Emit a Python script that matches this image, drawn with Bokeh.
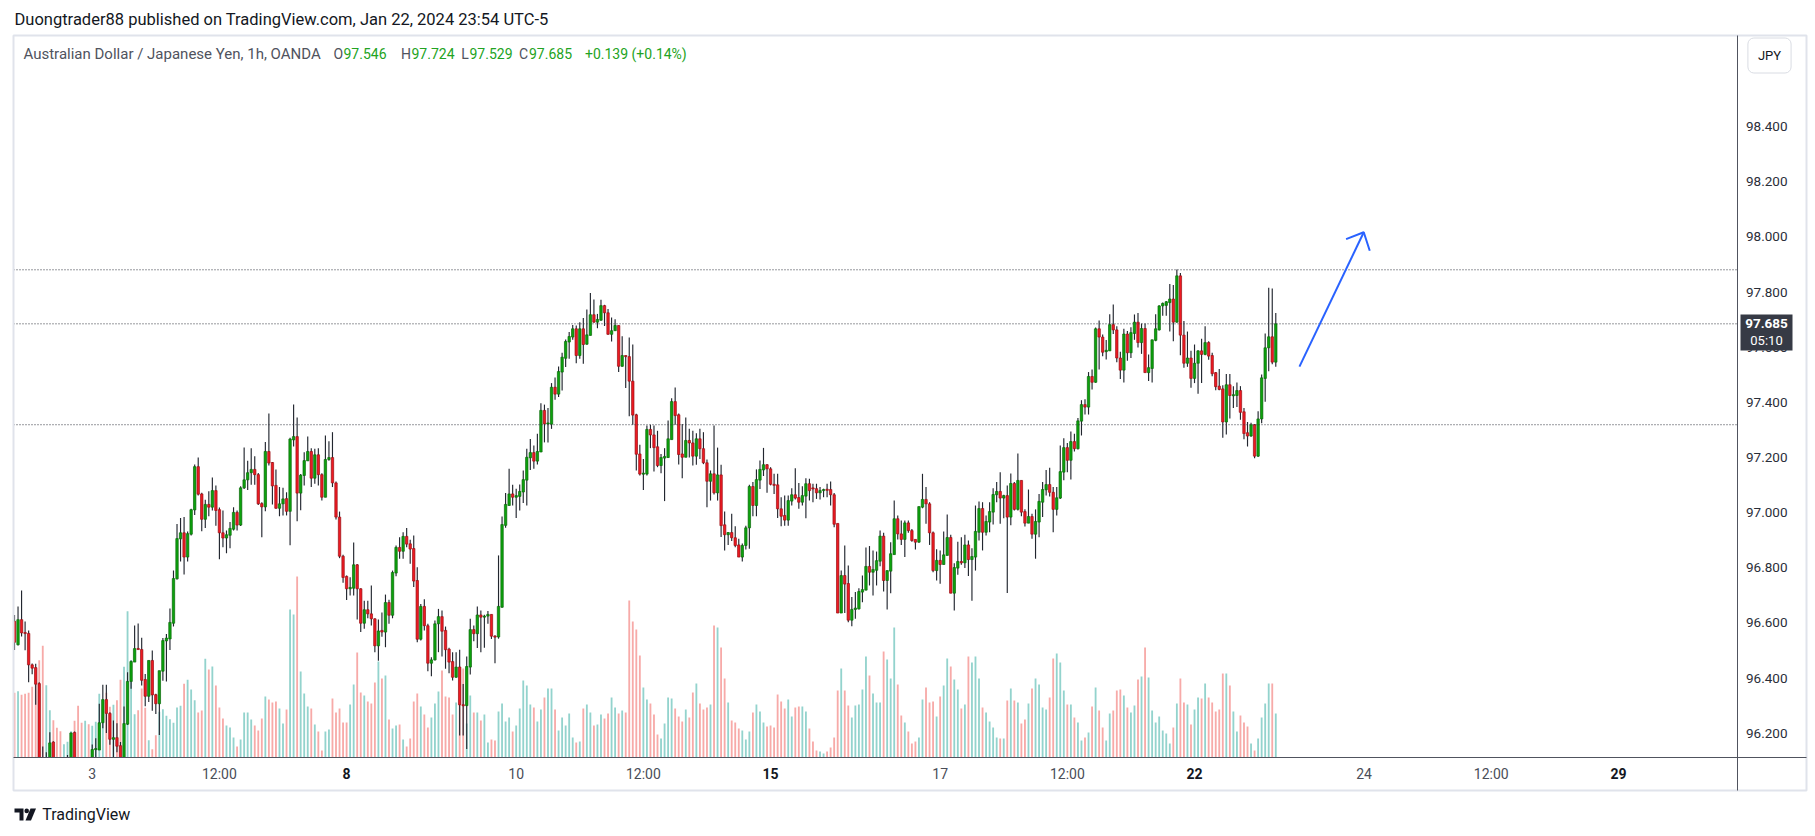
import numpy as np
from bokeh.plotting import figure
from bokeh.models import Range1d, Label, ColumnDataSource
from bokeh.core.properties import value
from bokeh.embed import file_html
from bokeh.resources import INLINE

# ---------------- data (AUD/JPY, 1h, OANDA) ----------------
opens = [
96.606, 96.521, 96.612, 96.565, 96.562, 96.448, 96.438, 96.380, 96.050, 96.030,
96.100, 96.168, 96.060, 96.040, 96.030, 96.060, 96.090, 96.203, 96.080, 96.060,
96.050, 96.070, 96.060, 96.141, 96.139, 96.238, 96.322, 96.272, 96.178, 96.184,
96.155, 96.090, 96.233, 96.388, 96.458, 96.507, 96.504, 96.395, 96.334, 96.464,
96.340, 96.307, 96.425, 96.535, 96.542, 96.599, 96.760, 96.905, 96.927, 96.839,
96.922, 97.010, 97.167, 97.068, 96.976, 97.030, 97.020, 97.080, 97.011, 96.927,
96.908, 96.918, 96.940, 97.001, 96.955, 97.090, 97.119, 97.145, 97.157, 97.138,
97.033, 97.021, 97.222, 97.182, 97.099, 97.016, 97.032, 97.051, 97.005, 97.264,
97.276, 97.071, 97.135, 97.188, 97.222, 97.125, 97.210, 97.138, 97.056, 97.193,
97.200, 97.108, 96.984, 96.842, 96.769, 96.724, 96.726, 96.811, 96.724, 96.599,
96.648, 96.633, 96.615, 96.517, 96.573, 96.567, 96.674, 96.628, 96.781, 96.874,
96.860, 96.914, 96.887, 96.870, 96.754, 96.541, 96.660, 96.590, 96.454, 96.466,
96.597, 96.623, 96.573, 96.505, 96.460, 96.403, 96.440, 96.303, 96.300, 96.440,
96.576, 96.561, 96.629, 96.621, 96.625, 96.631, 96.552, 96.549, 96.657, 96.954,
97.026, 97.068, 97.056, 97.059, 97.075, 97.118, 97.199, 97.218, 97.187, 97.220,
97.371, 97.322, 97.321, 97.455, 97.430, 97.510, 97.560, 97.619, 97.637, 97.667,
97.570, 97.667, 97.611, 97.643, 97.718, 97.691, 97.698, 97.751, 97.725, 97.647,
97.660, 97.679, 97.531, 97.570, 97.566, 97.477, 97.355, 97.213, 97.140, 97.140,
97.302, 97.282, 97.239, 97.171, 97.198, 97.200, 97.265, 97.403, 97.355, 97.213,
97.201, 97.262, 97.253, 97.205, 97.268, 97.232, 97.181, 97.114, 97.141, 97.072,
97.137, 96.956, 96.920, 96.928, 96.909, 96.883, 96.839, 96.881, 96.945, 97.095,
97.026, 97.118, 97.155, 97.174, 97.159, 97.103, 97.101, 97.014, 96.990, 96.973,
97.042, 97.065, 97.055, 97.038, 97.060, 97.105, 97.089, 97.087, 97.072, 97.080,
97.084, 97.084, 97.065, 96.961, 96.636, 96.772, 96.743, 96.610, 96.649, 96.651,
96.712, 96.719, 96.805, 96.784, 96.791, 96.824, 96.915, 96.754, 96.788, 96.848,
96.978, 96.923, 96.903, 96.963, 96.935, 96.903, 96.893, 97.020, 97.048, 97.032,
96.927, 96.790, 96.827, 96.812, 96.845, 96.910, 96.708, 96.799, 96.823, 96.818,
96.883, 96.830, 96.839, 96.929, 97.015, 96.929, 96.966, 97.002, 97.065, 97.077,
97.053, 97.062, 96.984, 97.106, 97.012, 97.117, 97.004, 96.962, 96.986, 96.922,
96.966, 97.038, 97.083, 97.102, 97.074, 97.012, 97.053, 97.147, 97.236, 97.190,
97.258, 97.232, 97.332, 97.392, 97.383, 97.494, 97.473, 97.667, 97.637, 97.584,
97.587, 97.682, 97.663, 97.561, 97.517, 97.648, 97.580, 97.650, 97.691, 97.617,
97.668, 97.508, 97.523, 97.625, 97.663, 97.750, 97.752, 97.762, 97.775, 97.691,
97.859, 97.644, 97.542, 97.561, 97.487, 97.542, 97.587, 97.574, 97.617, 97.570,
97.508, 97.459, 97.449, 97.329, 97.464, 97.425, 97.425, 97.443, 97.366, 97.290,
97.278, 97.319, 97.205, 97.340, 97.487, 97.598, 97.638, 97.546]

highs = [
96.629, 96.660, 96.718, 96.605, 96.573, 96.453, 96.452, 96.385, 96.152, 96.131,
96.204, 96.171, 96.100, 96.090, 96.100, 96.121, 96.203, 96.206, 96.100, 96.090,
96.100, 96.105, 96.159, 96.182, 96.307, 96.376, 96.376, 96.276, 96.246, 96.236,
96.168, 96.297, 96.421, 96.464, 96.591, 96.598, 96.546, 96.415, 96.464, 96.500,
96.343, 96.427, 96.545, 96.560, 96.652, 96.790, 96.959, 96.981, 96.984, 96.932,
97.014, 97.175, 97.200, 97.072, 97.047, 97.078, 97.128, 97.099, 97.019, 97.008,
96.935, 96.966, 97.020, 97.008, 97.096, 97.236, 97.188, 97.234, 97.205, 97.144,
97.038, 97.256, 97.360, 97.184, 97.157, 97.093, 97.090, 97.074, 97.272, 97.392,
97.345, 97.140, 97.219, 97.276, 97.234, 97.232, 97.234, 97.143, 97.280, 97.259,
97.292, 97.113, 97.004, 96.847, 96.772, 96.766, 96.892, 96.814, 96.726, 96.681,
96.681, 96.736, 96.617, 96.613, 96.638, 96.703, 96.684, 96.790, 96.881, 96.911,
96.929, 96.944, 96.902, 96.917, 96.802, 96.669, 96.686, 96.597, 96.476, 96.609,
96.651, 96.645, 96.587, 96.510, 96.494, 96.494, 96.503, 96.379, 96.478, 96.615,
96.591, 96.660, 96.645, 96.630, 96.643, 96.631, 96.555, 96.845, 96.986, 97.071,
97.159, 97.101, 97.087, 97.102, 97.153, 97.232, 97.267, 97.244, 97.286, 97.397,
97.392, 97.380, 97.470, 97.490, 97.530, 97.580, 97.628, 97.655, 97.681, 97.679,
97.691, 97.706, 97.737, 97.797, 97.773, 97.721, 97.772, 97.754, 97.739, 97.708,
97.702, 97.679, 97.640, 97.570, 97.635, 97.610, 97.359, 97.246, 97.195, 97.316,
97.319, 97.316, 97.297, 97.213, 97.234, 97.334, 97.415, 97.454, 97.360, 97.322,
97.345, 97.304, 97.297, 97.288, 97.304, 97.292, 97.193, 97.153, 97.316, 97.236,
97.174, 97.004, 96.929, 96.996, 96.951, 96.905, 96.888, 96.953, 97.101, 97.111,
97.157, 97.189, 97.235, 97.177, 97.165, 97.141, 97.141, 97.056, 97.062, 97.062,
97.089, 97.161, 97.108, 97.096, 97.125, 97.123, 97.105, 97.105, 97.093, 97.087,
97.105, 97.113, 97.071, 96.961, 96.790, 96.881, 96.808, 96.694, 96.712, 96.726,
96.772, 96.874, 96.879, 96.863, 96.859, 96.935, 96.927, 96.790, 96.893, 97.044,
96.990, 96.972, 96.972, 96.972, 96.941, 96.903, 97.022, 97.141, 97.093, 97.038,
96.932, 96.867, 96.863, 96.932, 96.993, 96.920, 96.817, 96.895, 96.911, 96.920,
96.899, 96.871, 97.026, 97.041, 97.038, 96.990, 97.038, 97.089, 97.111, 97.147,
97.065, 97.099, 97.142, 97.111, 97.215, 97.117, 97.012, 97.084, 96.996, 97.012,
97.068, 97.111, 97.155, 97.163, 97.093, 97.093, 97.244, 97.270, 97.253, 97.294,
97.286, 97.343, 97.408, 97.411, 97.510, 97.519, 97.672, 97.697, 97.646, 97.626,
97.720, 97.755, 97.676, 97.584, 97.667, 97.659, 97.673, 97.719, 97.724, 97.686,
97.686, 97.574, 97.627, 97.720, 97.752, 97.762, 97.768, 97.829, 97.826, 97.882,
97.869, 97.695, 97.657, 97.587, 97.610, 97.589, 97.631, 97.676, 97.622, 97.580,
97.510, 97.521, 97.462, 97.503, 97.503, 97.459, 97.472, 97.459, 97.380, 97.329,
97.326, 97.322, 97.368, 97.501, 97.650, 97.816, 97.813, 97.724]

lows = [
96.502, 96.518, 96.551, 96.501, 96.385, 96.414, 96.303, 96.020, 95.990, 96.030,
96.060, 96.030, 96.000, 96.000, 96.020, 96.040, 96.070, 96.050, 96.020, 96.010,
96.020, 96.040, 96.050, 96.100, 96.139, 96.218, 96.201, 96.158, 96.100, 96.131,
96.070, 96.060, 96.230, 96.361, 96.458, 96.504, 96.373, 96.298, 96.313, 96.282,
96.270, 96.194, 96.390, 96.388, 96.502, 96.587, 96.758, 96.823, 96.776, 96.823,
96.917, 96.992, 97.062, 96.933, 96.944, 96.987, 97.008, 96.953, 96.831, 96.875,
96.853, 96.871, 96.935, 96.935, 96.952, 97.086, 97.082, 97.101, 97.101, 97.028,
96.911, 97.005, 97.171, 97.030, 97.014, 96.987, 96.990, 96.990, 96.882, 97.240,
96.969, 97.009, 97.099, 97.188, 97.093, 97.105, 97.099, 97.044, 97.056, 97.188,
97.093, 96.975, 96.835, 96.746, 96.683, 96.700, 96.700, 96.613, 96.567, 96.579,
96.617, 96.591, 96.494, 96.463, 96.550, 96.512, 96.597, 96.617, 96.769, 96.833,
96.833, 96.875, 96.815, 96.730, 96.530, 96.536, 96.573, 96.425, 96.407, 96.464,
96.494, 96.478, 96.434, 96.418, 96.391, 96.401, 96.192, 96.192, 96.143, 96.413,
96.534, 96.509, 96.494, 96.510, 96.597, 96.542, 96.454, 96.543, 96.655, 96.945,
97.026, 97.026, 96.981, 97.008, 97.035, 97.026, 97.155, 97.159, 97.175, 97.220,
97.255, 97.255, 97.304, 97.410, 97.420, 97.443, 97.528, 97.558, 97.627, 97.542,
97.558, 97.540, 97.609, 97.643, 97.689, 97.669, 97.696, 97.677, 97.645, 97.621,
97.660, 97.510, 97.529, 97.452, 97.350, 97.319, 97.153, 97.135, 97.082, 97.135,
97.234, 97.149, 97.165, 97.143, 97.042, 97.198, 97.265, 97.319, 97.175, 97.125,
97.201, 97.200, 97.171, 97.174, 97.195, 97.176, 97.020, 97.044, 97.066, 97.044,
96.912, 96.863, 96.883, 96.897, 96.875, 96.839, 96.823, 96.866, 96.869, 96.987,
96.987, 97.086, 97.133, 97.072, 97.099, 97.068, 96.981, 96.951, 96.953, 96.953,
97.026, 97.048, 97.014, 97.026, 96.980, 97.044, 97.038, 97.050, 97.048, 97.056,
97.056, 97.026, 96.947, 96.636, 96.636, 96.636, 96.603, 96.588, 96.615, 96.649,
96.675, 96.719, 96.736, 96.700, 96.736, 96.806, 96.714, 96.649, 96.708, 96.848,
96.903, 96.883, 96.839, 96.927, 96.895, 96.866, 96.891, 97.016, 96.960, 96.883,
96.784, 96.754, 96.742, 96.812, 96.845, 96.708, 96.645, 96.775, 96.811, 96.799,
96.770, 96.681, 96.790, 96.899, 96.863, 96.917, 96.929, 96.957, 97.038, 96.960,
96.980, 96.709, 96.954, 97.008, 97.008, 96.987, 96.950, 96.962, 96.905, 96.833,
96.911, 96.984, 97.062, 97.059, 96.929, 96.990, 97.050, 97.118, 97.147, 97.120,
97.222, 97.229, 97.280, 97.356, 97.356, 97.447, 97.471, 97.519, 97.567, 97.556,
97.587, 97.648, 97.546, 97.485, 97.472, 97.551, 97.561, 97.627, 97.599, 97.576,
97.508, 97.478, 97.472, 97.622, 97.661, 97.714, 97.714, 97.657, 97.622, 97.689,
97.571, 97.526, 97.529, 97.453, 97.470, 97.431, 97.470, 97.571, 97.555, 97.495,
97.444, 97.444, 97.272, 97.284, 97.342, 97.380, 97.383, 97.337, 97.266, 97.240,
97.275, 97.197, 97.202, 97.324, 97.402, 97.513, 97.538, 97.529]

closes = [
96.530, 96.612, 96.564, 96.562, 96.448, 96.436, 96.378, 96.050, 96.030, 96.100,
96.165, 96.060, 96.040, 96.030, 96.060, 96.090, 96.201, 96.080, 96.060, 96.050,
96.070, 96.060, 96.141, 96.144, 96.238, 96.322, 96.272, 96.178, 96.184, 96.153,
96.090, 96.235, 96.388, 96.460, 96.507, 96.504, 96.392, 96.334, 96.464, 96.339,
96.307, 96.427, 96.536, 96.545, 96.602, 96.761, 96.906, 96.927, 96.839, 96.924,
97.011, 97.167, 97.067, 96.976, 97.030, 97.020, 97.080, 97.008, 96.927, 96.908,
96.920, 96.943, 97.001, 96.955, 97.090, 97.119, 97.145, 97.157, 97.138, 97.032,
97.021, 97.222, 97.180, 97.097, 97.016, 97.032, 97.050, 97.005, 97.267, 97.276,
97.071, 97.136, 97.189, 97.222, 97.125, 97.210, 97.138, 97.056, 97.193, 97.200,
97.108, 96.984, 96.842, 96.765, 96.724, 96.729, 96.811, 96.724, 96.599, 96.648,
96.633, 96.615, 96.517, 96.571, 96.567, 96.674, 96.628, 96.783, 96.874, 96.860,
96.914, 96.886, 96.868, 96.752, 96.541, 96.660, 96.590, 96.454, 96.466, 96.597,
96.623, 96.570, 96.503, 96.458, 96.403, 96.440, 96.303, 96.300, 96.442, 96.576,
96.561, 96.629, 96.621, 96.625, 96.631, 96.552, 96.549, 96.660, 96.957, 97.030,
97.068, 97.056, 97.062, 97.077, 97.120, 97.201, 97.218, 97.187, 97.222, 97.371,
97.322, 97.325, 97.455, 97.430, 97.512, 97.564, 97.621, 97.639, 97.667, 97.570,
97.667, 97.610, 97.645, 97.718, 97.691, 97.701, 97.751, 97.725, 97.647, 97.660,
97.679, 97.531, 97.570, 97.566, 97.477, 97.354, 97.212, 97.140, 97.143, 97.302,
97.282, 97.236, 97.171, 97.200, 97.204, 97.268, 97.403, 97.352, 97.211, 97.201,
97.262, 97.253, 97.205, 97.268, 97.232, 97.181, 97.114, 97.141, 97.072, 97.137,
96.953, 96.920, 96.928, 96.909, 96.881, 96.839, 96.881, 96.945, 97.095, 97.026,
97.120, 97.157, 97.174, 97.159, 97.103, 97.099, 97.014, 96.987, 96.973, 97.044,
97.065, 97.053, 97.038, 97.062, 97.105, 97.080, 97.087, 97.072, 97.080, 97.084,
97.082, 97.065, 96.958, 96.636, 96.772, 96.741, 96.610, 96.649, 96.654, 96.714,
96.721, 96.805, 96.784, 96.794, 96.826, 96.915, 96.754, 96.790, 96.851, 96.978,
96.923, 96.903, 96.963, 96.935, 96.899, 96.893, 97.022, 97.048, 97.032, 96.927,
96.790, 96.827, 96.812, 96.847, 96.910, 96.708, 96.801, 96.823, 96.818, 96.883,
96.830, 96.841, 96.932, 97.015, 96.929, 96.968, 97.004, 97.066, 97.077, 97.053,
97.062, 96.984, 97.106, 97.012, 97.117, 97.002, 96.962, 96.986, 96.922, 96.968,
97.041, 97.084, 97.102, 97.074, 97.012, 97.054, 97.149, 97.236, 97.190, 97.258,
97.232, 97.333, 97.392, 97.383, 97.494, 97.473, 97.667, 97.637, 97.582, 97.589,
97.682, 97.663, 97.561, 97.517, 97.648, 97.580, 97.653, 97.691, 97.617, 97.668,
97.508, 97.526, 97.627, 97.667, 97.750, 97.759, 97.765, 97.775, 97.691, 97.859,
97.644, 97.542, 97.561, 97.487, 97.542, 97.587, 97.574, 97.617, 97.568, 97.504,
97.457, 97.447, 97.329, 97.464, 97.425, 97.427, 97.443, 97.364, 97.287, 97.278,
97.319, 97.205, 97.340, 97.489, 97.598, 97.638, 97.546, 97.685]

volumes = [
64.7, 66.3, 62.7, 63.7, 64.7, 70.7, 73.0, 97.3, 111.7, 72.3,
47.3, 37.3, 29.7, 26.3, 13.3, 15.7, 26.3, 36.7, 51.7, 34.7,
36.7, 33.3, 31.7, 35.7, 63.7, 50.0, 64.7, 50.7, 52.7, 57.3,
77.7, 90.7, 146.3, 97.3, 43.3, 47.3, 69.0, 49.7, 17.3, 8.3,
22.3, 45.7, 48.3, 41.7, 38.3, 34.7, 50.0, 51.7, 73.7, 77.7,
68, 57.3, 45, 47, 98.7, 88, 91, 72, 50, 39,
32, 30, 20, 11, 18, 45, 45, 38, 32, 27,
39, 61, 58, 55, 56, 49, 34, 48, 148, 143,
181, 86, 64, 51, 49, 33, 26, 7, 26, 28,
59, 45, 49, 35, 35, 53, 73, 105, 65, 62,
56, 54, 75, 96, 79, 82, 38, 29, 32, 33,
18, 11, 19, 56, 64, 51, 43, 30, 40, 54,
66, 87, 61, 60, 43, 55, 91, 89, 34, 62,
45, 45, 37, 43, 15, 18, 17, 46, 54, 36,
40, 26, 32, 49, 77, 72, 53, 50, 36, 48,
60, 69, 69, 48, 27, 40, 32, 44, 20, 15,
16, 49, 53, 45, 32, 33, 43, 39, 44, 60,
50, 44, 47, 45, 157, 136, 128, 102, 70, 58,
54, 43, 23, 19, 34, 60, 59, 49, 41, 36,
48, 40, 65, 74, 54, 48, 50, 53, 132, 130,
110, 79, 55, 37, 35, 29, 27, 18, 26, 45,
53, 46, 35, 31, 32, 30, 63, 56, 49, 58,
41, 50, 51, 51, 46, 29, 16, 7, 6, 4,
6, 10, 20, 67, 89, 67, 52, 40, 52, 53,
68, 101, 82, 64, 55, 55, 106, 98, 79, 130,
73, 42, 35, 26, 14, 16, 20, 58, 70, 55,
56, 41, 61, 72, 99, 91, 78, 68, 49, 53,
101, 95, 101, 79, 50, 45, 36, 30, 20, 19,
19, 57, 69, 57, 55, 34, 38, 54, 69, 79,
73, 50, 48, 60, 99, 104, 95, 67, 53, 53,
40, 35, 17, 20, 25, 51, 70, 47, 30, 17,
44, 47, 67, 68, 62, 50, 45, 52, 78, 81,
110, 80, 47, 35, 41, 27, 24, 14, 30, 54,
79, 55, 53, 33, 48, 60, 59, 74, 60, 55,
46, 48, 84, 84, 72, 46, 26, 42, 35, 31,
14, 7, 19, 40, 54, 74, 74, 44]

price_ticks = [96.2, 96.4, 96.6, 96.8, 97.0, 97.2, 97.4, 97.6, 97.8, 98.0, 98.2, 98.4]
time_tick_pos = [22, 58, 94, 142, 178, 214, 262, 298, 334, 382, 418, 454]
time_tick_labels = ["3", "12:00", "8", "10", "12:00", "15", "17", "12:00", "22", "24", "12:00", "29"]
time_tick_bold = [False, False, True, False, False, True, False, False, True, False, False, True]
level_lines = [97.881, 97.685, 97.319]
arrow_line_x = [363.7, 381.9]
arrow_line_y = [97.530, 98.017]
arrow_head_x = [376.9, 381.9, 383.6]
arrow_head_y = [97.992, 98.017, 97.950]

header_text = "Duongtrader88 published on TradingView.com, Jan 22, 2024 23:54 UTC-5"
symbol_text = "Australian Dollar / Japanese Yen, 1h, OANDA"
ohlc_keys = ["O", "H", "L", "C"]
ohlc_vals = ["97.546", "97.724", "97.529", "97.685"]
change_text = "+0.139 (+0.14%)"
last_price = 97.685
last_price_text = "97.685"
countdown_text = "05:10"
currency_text = "JPY"
brand_text = "TradingView"

# ---------------- canvas / scales ----------------
W, H = 1815, 834
BAR_PX = 3.533        # pixels per hourly bar
BAR0_PX = 14.0        # pixel x of bar 0
PX_PER_YEN = 275.7    # pixels per 1.0 price unit
REF_PRICE, REF_PX = 98.4, 126.2

def px_x(px):
    return (px - BAR0_PX) / BAR_PX

def px_y(py):
    return REF_PRICE - (py - REF_PX) / PX_PER_YEN

PANE_L, PANE_R, PANE_T, PANE_B = 13, 1737, 35, 757
OUTER_R, OUTER_B = 1806, 790

UP, DN = "#0ca30c", "#ee1a22"
UP_EDGE, DN_EDGE = "#0a690a", "#9a1016"
WICK = "#22262f"
VOL_UP, VOL_DN = "#93d3cd", "#f7aaa8"
AXIS = "#50535e"
FONT = "Roboto"

o = np.array(opens); c = np.array(closes)
up = c >= o
bt = np.maximum(o, c); bb = np.minimum(o, c)
thin = (bt - bb) < 0.004
mid = (bt + bb) / 2
bt = np.where(thin, mid + 0.002, bt)
bb = np.where(thin, mid - 0.002, bb)

src = ColumnDataSource(dict(
    i=list(range(len(closes))), o=opens, h=highs, l=lows, c=closes, v=volumes,
    bt=bt.tolist(), bb=bb.tolist(),
    fc=[UP if u else DN for u in up], lc=[UP_EDGE if u else DN_EDGE for u in up],
    vc=[VOL_UP if u else VOL_DN for u in up]))

p = figure(width=W, height=H, title=None,
           x_range=Range1d(px_x(0), px_x(W)), y_range=Range1d(px_y(H), px_y(0)),
           output_backend="svg", toolbar_location=None,
           x_axis_location=None, y_axis_location=None, min_border=0)
p.xgrid.visible = False
p.ygrid.visible = False
p.outline_line_color = None
p.background_fill_color = "white"
p.border_fill_color = "white"
# volume scale: 1 unit per pixel, zero at the pane bottom
p.extra_y_ranges = {"vol": Range1d(PANE_B - H, PANE_B)}

# ---- volume & candles ----
p.vbar(x="i", top="v", bottom=0, width=0.52, y_range_name="vol",
       fill_color="vc", line_color=None, source=src)
p.segment(x0="i", y0="l", x1="i", y1="h", line_color=WICK, line_width=1.15, source=src)
p.vbar(x="i", top="bt", bottom="bb", width=0.68, fill_color="fc",
       line_color="lc", line_width=0.7, source=src)

# ---- drawings ----
n_lv = len(level_lines)
p.segment(x0=[px_x(PANE_L)] * n_lv, x1=[px_x(PANE_R)] * n_lv, y0=level_lines, y1=level_lines,
          line_color="#2f323b", line_dash="1 2", line_width=1)
p.line(arrow_line_x, arrow_line_y, line_color="#2962ff", line_width=2)
p.line(arrow_head_x, arrow_head_y, line_color="#2962ff", line_width=2)

# ---- clip the pane: white covers outside it ----
p.quad(left=[px_x(0), px_x(0), px_x(PANE_R)], right=[px_x(W), px_x(PANE_L), px_x(W)],
       bottom=[px_y(H), px_y(H), px_y(H)], top=[px_y(PANE_B), px_y(0), px_y(0)],
       fill_color="white", line_color=None)

# ---- frame & axis lines ----
p.quad(left=[px_x(PANE_L)], right=[px_x(OUTER_R)], top=[px_y(PANE_T)], bottom=[px_y(OUTER_B)],
       fill_alpha=0, line_color="#e0e3eb", line_width=2)
p.segment(x0=[px_x(PANE_L), px_x(PANE_R)], x1=[px_x(OUTER_R), px_x(PANE_R)],
          y0=[px_y(PANE_B), px_y(PANE_T)], y1=[px_y(PANE_B), px_y(OUTER_B)],
          line_color=AXIS, line_width=1)

# ---- price axis labels ----
p.text(x=[px_x(1745.5)] * len(price_ticks), y=price_ticks,
       text=["%.3f" % t for t in price_ticks], text_align="left", text_baseline="middle",
       text_font=value(FONT), text_font_size="13.5px", text_color="#2a2e39")

# ---- time axis labels ----
tsrc = ColumnDataSource(dict(x=time_tick_pos, t=time_tick_labels,
                             fs=["bold" if b else "normal" for b in time_tick_bold],
                             col=["#131722" if b else "#4a4e58" for b in time_tick_bold]))
p.text(x="x", y=px_y(773), text="t", text_font_style="fs", text_color="col",
       text_align="center", text_baseline="middle", text_font=value(FONT),
       text_font_size="14px", source=tsrc)

# ---- last price tag ----
p.quad(left=[px_x(1740)], right=[px_x(1792)], top=[px_y(314)], bottom=[px_y(350)],
       fill_color="#363a45", line_color=None)
p.text(x=[px_x(1766)], y=[last_price], text=[last_price_text], text_align="center",
       text_baseline="middle", text_font=value(FONT), text_font_size="13.5px",
       text_font_style="bold", text_color="white")
p.text(x=[px_x(1766)], y=[px_y(340)], text=[countdown_text], text_align="center",
       text_baseline="middle", text_font=value(FONT), text_font_size="13px",
       text_color="white")

# ---- currency button ----
p.add_layout(Label(x=1769, y=H - 55, x_units="screen", y_units="screen", text=currency_text,
                   text_align="center", text_baseline="middle", text_font=FONT,
                   text_font_size="13px", text_color="#131722",
                   background_fill_color="white", border_line_color="#d9dce3",
                   padding=10, border_radius=6))

# ---- header ----
p.add_layout(Label(x=14, y=H - 18.5, x_units="screen", y_units="screen", text=header_text,
                   text_align="left", text_baseline="middle", text_font=FONT,
                   text_font_size="16.5px", text_color="#131722"))
p.add_layout(Label(x=23, y=H - 53, x_units="screen", y_units="screen", text=symbol_text,
                   text_align="left", text_baseline="middle", text_font=FONT,
                   text_font_size="15px", text_color="#50535e"))
key_x = [333, 400.5, 460.7, 518.6]
val_x = [343, 411, 469, 528.5]
for k, v, kx, vx in zip(ohlc_keys, ohlc_vals, key_x, val_x):
    p.add_layout(Label(x=kx, y=H - 53, x_units="screen", y_units="screen", text=k,
                       text_align="left", text_baseline="middle", text_font=FONT,
                       text_font_size="14px", text_color="#50535e"))
    p.add_layout(Label(x=vx, y=H - 53, x_units="screen", y_units="screen", text=v,
                       text_align="left", text_baseline="middle", text_font=FONT,
                       text_font_size="14px", text_color="#22a322"))
p.add_layout(Label(x=584.5, y=H - 53, x_units="screen", y_units="screen", text=change_text,
                   text_align="left", text_baseline="middle", text_font=FONT,
                   text_font_size="14px", text_color="#22a322"))

# ---- footer brand ----
logo_t_x = [[px_x(14), px_x(23), px_x(23), px_x(19), px_x(19), px_x(14)]]
logo_t_y = [[px_y(808), px_y(808), px_y(820), px_y(820), px_y(812), px_y(812)]]
p.patches(logo_t_x, logo_t_y, fill_color="#131722", line_color=None)
p.patches([[px_x(30), px_x(35.5), px_x(30.5), px_x(25)]],
          [[px_y(808), px_y(808), px_y(820), px_y(820)]], fill_color="#131722", line_color=None)
p.scatter([px_x(26.2)], [px_y(810.4)], size=4.6, fill_color="#131722", line_color=None)
p.add_layout(Label(x=41.7, y=H - 814, x_units="screen", y_units="screen", text=brand_text,
                   text_align="left", text_baseline="middle", text_font=FONT,
                   text_font_size="16px", text_color="#131722"))

open("out.html", "w").write(file_html(p, INLINE, "AUDJPY 1h"))
